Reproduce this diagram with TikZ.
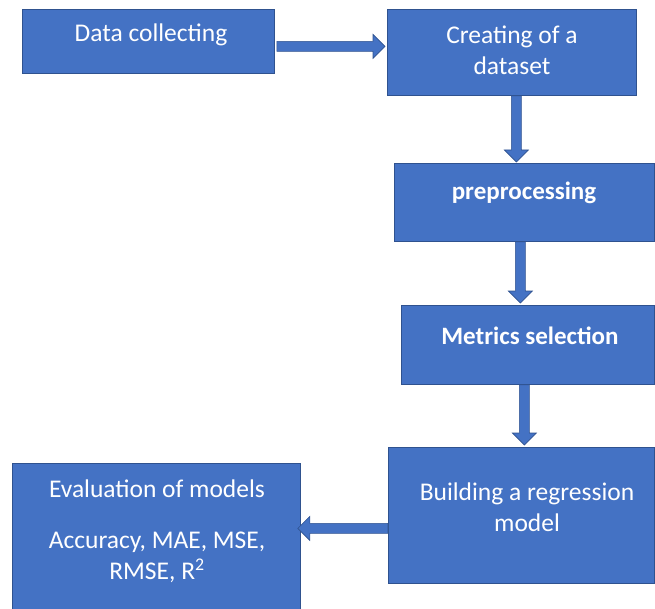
\documentclass[tikz,border=0pt]{standalone}
\usepackage{fontspec}
\setmainfont{Carlito}
\usetikzlibrary{calc}
\definecolor{boxblue}{HTML}{4472C4}
\definecolor{edgeblue}{HTML}{2F528F}
\tikzset{
  box/.style={draw=edgeblue, fill=boxblue, line width=0.8pt, inner sep=0pt, anchor=north west},
  txt/.style={text=white, font=\fontsize{25.5}{31}\selectfont, align=center, inner sep=0pt},
  boldtxt/.style={txt, font=\fontsize{25}{31}\selectfont\bfseries},
  blockarr/.style={draw=edgeblue, fill=boxblue, line width=0.6pt, line join=miter, to path={
    let \p1=(\tikztostart), \p2=(\tikztotarget),
        \n1={atan2(\y2-\y1,\x2-\x1)}, \n2={veclen(\x2-\x1,\y2-\y1)} in
    ([shift={(\p1)},rotate=\n1]0pt,5pt)
    -- ([shift={(\p1)},rotate=\n1]\n2-12pt,5pt)
    -- ([shift={(\p1)},rotate=\n1]\n2-12pt,12pt)
    -- ([shift={(\p1)},rotate=\n1]\n2,0pt)
    -- ([shift={(\p1)},rotate=\n1]\n2-12pt,-12pt)
    -- ([shift={(\p1)},rotate=\n1]\n2-12pt,-5pt)
    -- ([shift={(\p1)},rotate=\n1]0pt,-5pt) -- cycle}}
}
\begin{document}
\begin{tikzpicture}[x=1pt,y=-1pt]
\useasboundingbox (0,0) rectangle (655,609);
% boxes
\node[box, minimum width=252pt, minimum height=64pt]  (b1) at (22,9) {};
\node[box, minimum width=249pt, minimum height=86pt]  (b2) at (387,9) {};
\node[box, minimum width=260pt, minimum height=78pt]  (b3) at (394,163) {};
\node[box, minimum width=253pt, minimum height=79pt]  (b4) at (401,305) {};
\node[box, minimum width=266pt, minimum height=136pt] (b5) at (388,447) {};
\node[box, minimum width=288pt, minimum height=152pt] (b6) at (12,463) {};
% texts
\node[txt] (t1) at (151,35) {Data collecting};
\node[txt] (t2) at (512,50.5) {Creating of a\\dataset};
\node[boldtxt] (t3) at (524,193) {preprocessing};
\node[boldtxt] (t4) at (530,336) {Metrics selection};
\node[txt] (t5) at (527,507.5) {Building a regression\\model};
\node[txt] (t6) at (157,531) {Evaluation of models\\[20pt]Accuracy, MAE, MSE,\\RMSE, R\textsuperscript{2}};
% arrows
\draw[blockarr] ($(b1.east)+(2,5)$) to ($(b2.west)+(-2,-6)$);
\draw[blockarr] ($(b2.south)+(4.5,0)$) to ($(b3.north)+(-8,-1)$);
\draw[blockarr] ($(b3.south)+(-4,0)$) to ($(b4.north)+(-7.5,-2)$);
\draw[blockarr] ($(b4.south)+(-3.5,0)$) to ($(b5.north)+(3,-2)$);
\draw[blockarr] ($(b5.west)+(0,13)$) to ($(b6.east)+(-3,-11)$);
\end{tikzpicture}
\end{document}
